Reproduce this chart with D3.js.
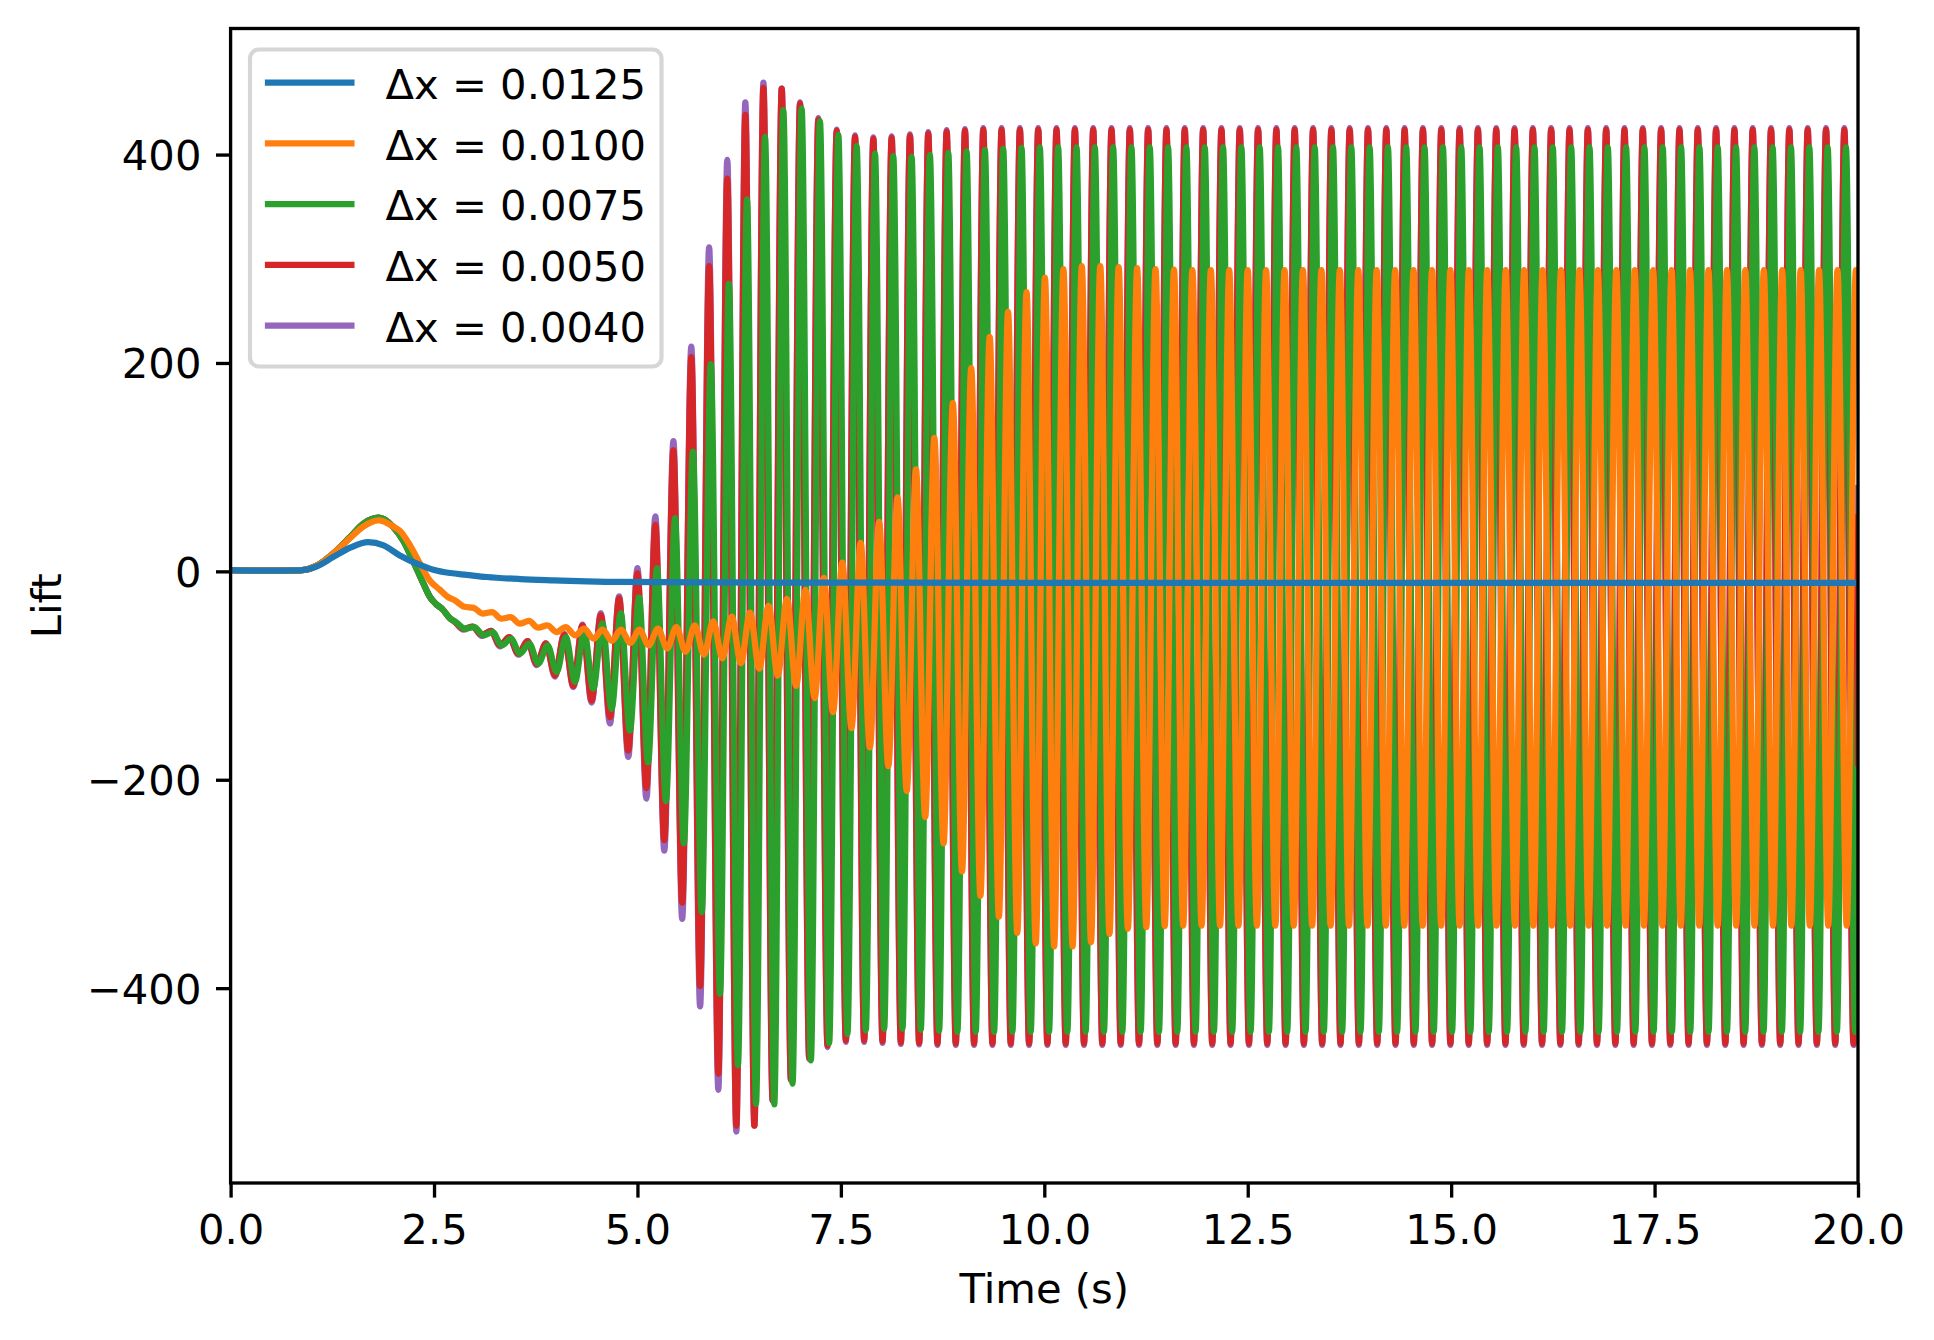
<!DOCTYPE html>
<html><head><meta charset="utf-8">
<script src="https://cdn.jsdelivr.net/npm/d3@7"></script>
<style>
body{margin:0;background:#fff}
svg{display:block}
text{font-family:"DejaVu Sans",sans-serif;fill:#000}
</style>
</head><body><div id="chart"></div>
<script>
// ---------------- data ----------------
const seriesLabels = ["Δx = 0.0125","Δx = 0.0100","Δx = 0.0075","Δx = 0.0050","Δx = 0.0040"];
const seriesColors = ["#1f77b4","#ff7f0e","#2ca02c","#d62728","#9467bd"];
const xTicks = [0,2.5,5,7.5,10,12.5,15,17.5,20];
const xTickLabels = ["0.0","2.5","5.0","7.5","10.0","12.5","15.0","17.5","20.0"];
const yTicks = [-400,-200,0,200,400];
const yTickLabels = ["\u2212400","\u2212200","0","200","400"];
const xLabel = "Time (s)";
const yLabel = "Lift";

// Δx = 0.0125  [time, lift]
const blueData = [[0,1.2],[0.5,0.6],[0.85,1.0],[1.06,4.8],[1.26,13.7],[1.47,22.7],[1.69,28],[1.88,24.9],[2.08,15.3],[2.29,7.4],[2.49,1.6],[2.7,-1.6],[2.9,-3.3],[3.15,-5.4],[3.56,-7.4],[3.97,-8.6],[4.38,-9.6],[4.79,-10.2],[6,-10.6],[8,-10.9],[12,-11],[20,-11]];

// Δx = 0.0100  (extrema of the oscillation)
const orangeData = [[0,1.2],[0.5,0.6],[0.85,1.0],[1.06,5.5],[1.26,17],[1.47,32],[1.63,43],[1.82,49],[2.0,43],[2.08,39],[2.205,25],[2.328,7.4],[2.45,-9],[2.57,-17.5],[2.66,-24],
[2.760,-28],[2.873,-34],[2.987,-35],[3.100,-40.6],[3.213,-39],[3.326,-45.4],[3.440,-44],[3.553,-50.2],[3.666,-47.6],[3.779,-54],
[3.893,-51.8],[4.006,-58.2],[4.119,-53.4],[4.232,-61.4],[4.346,-55],[4.459,-64.6],[4.572,-56],[4.685,-66.8],[4.799,-56],[4.912,-68.7],
[5.025,-56],[5.138,-71],[5.252,-55],[5.365,-74],[5.478,-53.5],[5.591,-77],[5.705,-51.8],[5.818,-80],[5.931,-48],[6.044,-83.4],
[6.158,-43.5],[6.271,-88],[6.384,-39.7],[6.497,-93.4],[6.611,-33],[6.724,-100],[6.837,-26.4],[6.950,-110],[7.064,-17.7],[7.177,-121.6],
[7.290,-6.2],[7.403,-135],[7.517,8.5],[7.630,-150.4],[7.743,27.3],[7.856,-169],[7.970,47.5],[8.083,-187],[8.196,71],[8.309,-210.8],
[8.423,97.8],[8.536,-235.7],[8.649,128],[8.762,-261],[8.876,161.5],[8.989,-288],[9.102,195],[9.215,-311.5],[9.329,225],[9.442,-331.5],
[9.555,249],[9.668,-347],[9.782,268],[9.895,-357],[10.008,282],[10.121,-360],[10.235,290],[10.348,-360],[10.461,293],[10.574,-356],
[10.688,293],[10.801,-348],[10.914,292],[11.027,-343],[11.141,291],[11.254,-341.5],[11.367,290],[11.480,-340.5],[11.594,289.5],[11.707,-340],
[11.820,289],[11.933,-340],[12.047,289],[12.160,-340],[12.273,289],[12.386,-340],[12.500,289],[12.613,-340],[12.726,289],[12.839,-340],
[12.953,289],[13.066,-340],[13.179,289],[13.292,-340],[13.406,289],[13.519,-340],[13.632,289],[13.745,-340],[13.859,289],[13.972,-340],
[14.085,289],[14.198,-340],[14.312,289],[14.425,-340],[14.538,289],[14.651,-340],[14.765,289],[14.878,-340],[14.991,289],[15.104,-340],
[15.218,289],[15.331,-340],[15.444,289],[15.557,-340],[15.671,289],[15.784,-340],[15.897,289],[16.010,-340],[16.124,289],[16.237,-340],
[16.350,289],[16.463,-340],[16.577,289],[16.690,-340],[16.803,289],[16.916,-340],[17.030,289],[17.143,-340],[17.256,289],[17.369,-340],
[17.483,289],[17.596,-340],[17.709,289],[17.822,-340],[17.936,289],[18.049,-340],[18.162,289],[18.275,-340],[18.389,289],[18.502,-340],
[18.615,289],[18.728,-340],[18.842,289],[18.955,-340],[19.068,289],[19.181,-340],[19.295,289],[19.408,-340],[19.521,289],[19.634,-340],
[19.748,289],[19.861,-340],[19.974,289],[20,275]];

// Δx = 0.0075
const greenData = [[0,1.2],[0.5,0.6],[0.85,1.0],[1.06,5.5],[1.26,17],[1.47,33],[1.63,45.7],[1.82,51.5],[2.0,42.5],[2.12,29.7],[2.25,8.9],[2.37,-11.8],[2.45,-24.6],[2.52,-31],[2.6,-36],[2.7,-45.4],
[2.77,-48.6],[2.88,-55],[2.995,-53.4],[3.107,-61.4],[3.22,-58.2],[3.33,-71],[3.445,-64.6],[3.557,-79],[3.67,-69.4],[3.782,-88.5],
[3.895,-71],[4.007,-96.6],[4.12,-63],[4.232,-106],[4.345,-58],[4.457,-112.5],[4.57,-50],[4.682,-132],[4.795,-40],[4.907,-152.8],
[5.02,-25],[5.13,-183.4],[5.24,3],[5.35,-220.6],[5.462,51],[5.57,-261],[5.682,115],[5.79,-327],[5.901,199],[6.014,-405.4],
[6.124,276],[6.235,-474],[6.346,357],[6.457,-511],[6.568,417],[6.681,-511.6],[6.793,442.6],[6.906,-491.7],[7.018,444],[7.131,-469.4],
[7.243,432],[7.356,-452.8],[7.469,419],[7.581,-443.8],[7.694,408],[7.806,-440.6],[7.919,401],[8.032,-439],[8.144,398.4],[8.257,-439],
[8.369,397.8],[8.482,-440],[8.594,399.4],[8.707,-441],[8.820,401.6],[8.932,-442],[9.045,403],[9.157,-442],[9.270,404.5],[9.383,-442],
[9.495,405.5],[9.608,-442],[9.720,406.5],[9.833,-442],[9.945,407],[10.058,-442],[10.170,407],[10.283,-442],[10.396,407],[10.508,-442],
[10.621,407],[10.733,-442],[10.846,407],[10.959,-442],[11.071,407],[11.184,-442],[11.296,407],[11.409,-442],[11.521,407],[11.634,-442],
[11.746,407],[11.859,-442],[11.972,407],[12.084,-442],[12.197,407],[12.309,-442],[12.422,407],[12.535,-442],[12.647,407],[12.760,-442],
[12.872,407],[12.985,-442],[13.097,407],[13.210,-442],[13.323,407],[13.435,-442],[13.548,407],[13.660,-442],[13.773,407],[13.886,-442],
[13.998,407],[14.111,-442],[14.223,407],[14.336,-442],[14.448,407],[14.561,-442],[14.673,407],[14.786,-442],[14.899,407],[15.011,-442],
[15.124,407],[15.236,-442],[15.349,407],[15.462,-442],[15.574,407],[15.687,-442],[15.799,407],[15.912,-442],[16.024,407],[16.137,-442],
[16.249,407],[16.362,-442],[16.475,407],[16.587,-442],[16.700,407],[16.812,-442],[16.925,407],[17.038,-442],[17.150,407],[17.263,-442],
[17.375,407],[17.488,-442],[17.600,407],[17.713,-442],[17.826,407],[17.938,-442],[18.051,407],[18.163,-442],[18.276,407],[18.389,-442],
[18.501,407],[18.614,-442],[18.726,407],[18.839,-442],[18.951,407],[19.064,-442],[19.176,407],[19.289,-442],[19.402,407],[19.514,-442],
[19.627,407],[19.740,-442],[19.852,407],[19.965,-442],[20,-190]];

// Δx = 0.0050
const redData = [[0,1.2],[0.5,0.6],[0.85,1.0],[1.06,5.5],[1.26,17],[1.47,33],[1.63,45.7],[1.82,51.5],[2.0,42.5],[2.12,29.7],[2.25,8.9],[2.37,-11.8],[2.45,-24.6],[2.52,-31],[2.6,-36],[2.7,-45.4],
[2.75,-48],[2.86,-55],[2.975,-53],[3.087,-61],[3.2,-57],[3.31,-71],[3.425,-63],[3.537,-79],[3.65,-67],[3.762,-89],
[3.875,-69],[3.987,-100],[4.1,-61],[4.212,-110],[4.325,-52],[4.437,-124],[4.55,-42],[4.662,-140],[4.775,-26],[4.887,-172],
[5.0,-2],[5.11,-208],[5.22,44.6],[5.33,-258],[5.442,116],[5.55,-318],[5.662,205.5],[5.77,-398],[5.881,293],[5.994,-482],
[6.104,377],[6.215,-532],[6.326,438],[6.437,-532],[6.548,464],[6.661,-507],[6.773,463],[6.886,-487],[6.998,449],[7.111,-467],
[7.223,433.6],[7.336,-455],[7.449,422.7],[7.561,-450],[7.674,417],[7.786,-450],[7.899,415],[8.012,-451],[8.124,416],[8.237,-452],
[8.349,418],[8.462,-452.5],[8.574,420],[8.687,-453],[8.800,422],[8.912,-453],[9.025,423],[9.137,-453],[9.250,424],[9.363,-453],
[9.475,424],[9.588,-453],[9.700,424],[9.813,-453],[9.925,424],[10.038,-453],[10.150,424],[10.263,-453],[10.376,424],[10.488,-453],
[10.601,424],[10.713,-453],[10.826,424],[10.939,-453],[11.051,424],[11.164,-453],[11.276,424],[11.389,-453],[11.501,424],[11.614,-453],
[11.726,424],[11.839,-453],[11.952,424],[12.064,-453],[12.177,424],[12.289,-453],[12.402,424],[12.515,-453],[12.627,424],[12.740,-453],
[12.852,424],[12.965,-453],[13.077,424],[13.190,-453],[13.303,424],[13.415,-453],[13.528,424],[13.640,-453],[13.753,424],[13.866,-453],
[13.978,424],[14.091,-453],[14.203,424],[14.316,-453],[14.428,424],[14.541,-453],[14.653,424],[14.766,-453],[14.879,424],[14.991,-453],
[15.104,424],[15.216,-453],[15.329,424],[15.442,-453],[15.554,424],[15.667,-453],[15.779,424],[15.892,-453],[16.004,424],[16.117,-453],
[16.229,424],[16.342,-453],[16.455,424],[16.567,-453],[16.680,424],[16.792,-453],[16.905,424],[17.018,-453],[17.130,424],[17.243,-453],
[17.355,424],[17.468,-453],[17.580,424],[17.693,-453],[17.806,424],[17.918,-453],[18.031,424],[18.143,-453],[18.256,424],[18.369,-453],
[18.481,424],[18.594,-453],[18.706,424],[18.819,-453],[18.931,424],[19.044,-453],[19.156,424],[19.269,-453],[19.382,424],[19.494,-453],
[19.607,424],[19.720,-453],[19.832,424],[19.945,-453],[20,52]];

// Δx = 0.0040
const purpleData = [[0,1.2],[0.5,0.6],[0.85,1.0],[1.06,5.5],[1.26,17],[1.47,33],[1.63,45.7],[1.82,51.5],[2.0,42.5],[2.12,29.7],[2.25,8.9],[2.37,-11.8],[2.45,-24.6],[2.52,-31],[2.6,-36],[2.7,-45.4],
[2.75,-48],[2.86,-56],[2.975,-53],[3.087,-62],[3.2,-57],[3.31,-72],[3.425,-63],[3.537,-80],[3.65,-67],[3.762,-90],
[3.875,-69],[3.987,-101],[4.1,-60],[4.212,-111],[4.325,-51],[4.437,-126],[4.55,-40],[4.662,-146],[4.775,-24],[4.887,-178],
[5.0,3],[5.11,-218],[5.22,52.7],[5.33,-268],[5.442,125],[5.55,-333.5],[5.662,215.6],[5.77,-417.6],[5.881,311],[5.994,-497.6],
[6.104,395],[6.215,-537.6],[6.326,450],[6.437,-532],[6.548,469],[6.661,-508],[6.773,463.5],[6.886,-488],[6.998,450],[7.111,-468],
[7.223,435],[7.336,-456.5],[7.449,424],[7.561,-451.5],[7.674,418.5],[7.786,-451.5],[7.899,416.5],[8.012,-452.5],[8.124,417.5],[8.237,-453.5],
[8.349,419.5],[8.462,-454],[8.574,421.5],[8.687,-454.5],[8.800,423.5],[8.912,-454.5],[9.025,424.5],[9.137,-454.5],[9.250,425.5],[9.363,-454.5],
[9.475,425.5],[9.588,-454.5],[9.700,425.5],[9.813,-454.5],[9.925,425.5],[10.038,-454.5],[10.150,425.5],[10.263,-454.5],[10.376,425.5],[10.488,-454.5],
[10.601,425.5],[10.713,-454.5],[10.826,425.5],[10.939,-454.5],[11.051,425.5],[11.164,-454.5],[11.276,425.5],[11.389,-454.5],[11.501,425.5],[11.614,-454.5],
[11.726,425.5],[11.839,-454.5],[11.952,425.5],[12.064,-454.5],[12.177,425.5],[12.289,-454.5],[12.402,425.5],[12.515,-454.5],[12.627,425.5],[12.740,-454.5],
[12.852,425.5],[12.965,-454.5],[13.077,425.5],[13.190,-454.5],[13.303,425.5],[13.415,-454.5],[13.528,425.5],[13.640,-454.5],[13.753,425.5],[13.866,-454.5],
[13.978,425.5],[14.091,-454.5],[14.203,425.5],[14.316,-454.5],[14.428,425.5],[14.541,-454.5],[14.653,425.5],[14.766,-454.5],[14.879,425.5],[14.991,-454.5],
[15.104,425.5],[15.216,-454.5],[15.329,425.5],[15.442,-454.5],[15.554,425.5],[15.667,-454.5],[15.779,425.5],[15.892,-454.5],[16.004,425.5],[16.117,-454.5],
[16.229,425.5],[16.342,-454.5],[16.455,425.5],[16.567,-454.5],[16.680,425.5],[16.792,-454.5],[16.905,425.5],[17.018,-454.5],[17.130,425.5],[17.243,-454.5],
[17.355,425.5],[17.468,-454.5],[17.580,425.5],[17.693,-454.5],[17.806,425.5],[17.918,-454.5],[18.031,425.5],[18.143,-454.5],[18.256,425.5],[18.369,-454.5],
[18.481,425.5],[18.594,-454.5],[18.706,425.5],[18.819,-454.5],[18.931,425.5],[19.044,-454.5],[19.156,425.5],[19.269,-454.5],[19.382,425.5],[19.494,-454.5],
[19.607,425.5],[19.720,-454.5],[19.832,425.5],[19.945,-454.5],[20,80]];

// ---------------- drawing ----------------
const W = 1934, H = 1340;
const plot = {left: 230.6, right: 1858, top: 28.5, bottom: 1183};
const FS = 41.7;           // 10pt at 300 dpi
const LW = 6.25;           // 1.5pt
const AXW = 3.33;          // 0.8pt
const TICK = 14.6, PAD = 14.6;

const svg = d3.select("#chart").append("svg").attr("width", W).attr("height", H);
svg.append("rect").attr("width", W).attr("height", H).attr("fill", "#fff");

const x = d3.scaleLinear().domain([0, 20]).range([plot.left, plot.right]);
const y = d3.scaleLinear().domain([-587, 521]).range([plot.bottom, plot.top]);

svg.append("clipPath").attr("id", "clip").append("rect")
  .attr("x", plot.left).attr("y", plot.top)
  .attr("width", plot.right - plot.left).attr("height", plot.bottom - plot.top);

const line = d3.line().x(d => x(d[0])).y(d => y(d[1])).curve(d3.curveMonotoneX);

const allSeries = [blueData, orangeData, greenData, redData, purpleData];
// draw order: last legend entry at the bottom, first on top
const gLines = svg.append("g").attr("clip-path", "url(#clip)");
[4, 3, 2, 1, 0].forEach(i => {
  gLines.append("path").datum(allSeries[i])
    .attr("d", line)
    .attr("fill", "none")
    .attr("stroke", seriesColors[i])
    .attr("stroke-width", LW)
    .attr("stroke-linejoin", "round")
    .attr("stroke-linecap", "square");
});

// axes
const xAxis = d3.axisBottom(x).tickValues(xTicks).tickSize(TICK).tickPadding(PAD)
  .tickFormat((d, i) => xTickLabels[i]);
const gx = svg.append("g").attr("transform", `translate(0,${plot.bottom})`).call(xAxis);
gx.select(".domain").remove();
gx.selectAll(".tick line").attr("stroke", "#000").attr("stroke-width", AXW);
gx.selectAll(".tick text").attr("font-size", FS).attr("font-family", "DejaVu Sans").attr("dy", "0.76em").attr("fill", "#000");

const yAxis = d3.axisLeft(y).tickValues(yTicks).tickSize(TICK).tickPadding(PAD)
  .tickFormat((d, i) => yTickLabels[i]);
const gy = svg.append("g").attr("transform", `translate(${plot.left},0)`).call(yAxis);
gy.select(".domain").remove();
gy.selectAll(".tick line").attr("stroke", "#000").attr("stroke-width", AXW);
gy.selectAll(".tick text").attr("font-size", FS).attr("font-family", "DejaVu Sans").attr("dy", "0.36em").attr("fill", "#000");

// spines
svg.append("rect")
  .attr("x", plot.left).attr("y", plot.top)
  .attr("width", plot.right - plot.left).attr("height", plot.bottom - plot.top)
  .attr("fill", "none").attr("stroke", "#000").attr("stroke-width", AXW)
  .attr("stroke-linejoin", "miter");

// axis labels
svg.append("text").attr("x", (plot.left + plot.right) / 2).attr("y", 1303)
  .attr("text-anchor", "middle").attr("font-size", FS).text(xLabel);
svg.append("text")
  .attr("transform", `translate(61,${(plot.top + plot.bottom) / 2}) rotate(-90)`)
  .attr("text-anchor", "middle").attr("font-size", FS).text(yLabel);

// legend
const lg = svg.append("g");
lg.append("rect").attr("x", 250).attr("y", 49.5).attr("width", 411.5).attr("height", 317)
  .attr("rx", 9).attr("ry", 9)
  .attr("fill", "#fff").attr("fill-opacity", 0.8)
  .attr("stroke", "#d6d6d6").attr("stroke-width", 4.17);
seriesLabels.forEach((lab, i) => {
  const cy = 82.7 + i * 60.75;
  lg.append("line").attr("x1", 268).attr("x2", 351.4).attr("y1", cy).attr("y2", cy)
    .attr("stroke", seriesColors[i]).attr("stroke-width", LW).attr("stroke-linecap", "square");
  lg.append("text").attr("x", 385.5).attr("y", cy + 16.2).attr("font-size", FS).text(lab);
});
</script>
</body></html>
